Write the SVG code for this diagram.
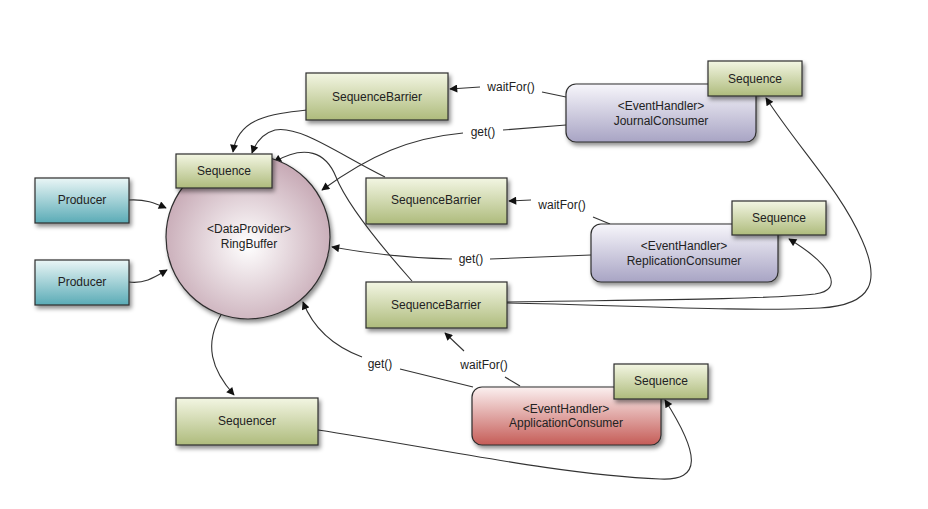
<svg xmlns="http://www.w3.org/2000/svg" width="928" height="509" viewBox="0 0 928 509">
<style>
text{font-family:"Liberation Sans",Arial,sans-serif;font-size:12px;fill:#222;text-anchor:middle;dominant-baseline:central}
.box{stroke:#2e2e2e;stroke-width:1.2}
.g{fill:url(#gGreen)}
.c{fill:url(#gCyan)}
.p{fill:url(#gPurple)}
.r{fill:url(#gRed)}
.sh{filter:url(#shadow)}
.ln{fill:none;stroke:#333;stroke-width:1.1}
.ar{marker-end:url(#arr)}
</style>
<defs>
<linearGradient id="gGreen" x1="0" y1="0" x2="0" y2="1"><stop offset="0" stop-color="#f3f6e3"/><stop offset="1" stop-color="#aebb7c"/></linearGradient>
<linearGradient id="gCyan" x1="0" y1="0" x2="0" y2="1"><stop offset="0" stop-color="#eaf6f6"/><stop offset="1" stop-color="#5aabb6"/></linearGradient>
<linearGradient id="gPurple" x1="0" y1="0" x2="0" y2="1"><stop offset="0" stop-color="#f7f6fb"/><stop offset="1" stop-color="#a8a4c4"/></linearGradient>
<linearGradient id="gRed" x1="0" y1="0" x2="0" y2="1"><stop offset="0" stop-color="#fbf0f0"/><stop offset="1" stop-color="#c55c57"/></linearGradient>
<radialGradient id="gCircle" cx="0.5" cy="0.55" r="0.55"><stop offset="0" stop-color="#ffffff"/><stop offset="1" stop-color="#c6a8b4"/></radialGradient>
<filter id="shadow" x="-20%" y="-20%" width="140%" height="150%"><feDropShadow dx="2" dy="3" stdDeviation="2" flood-color="#000" flood-opacity="0.45"/></filter>
<marker id="arr" viewBox="0 0 10 10" refX="9" refY="5" markerWidth="10" markerHeight="8" markerUnits="userSpaceOnUse" orient="auto"><path d="M0,0 L10,5 L0,10 z" fill="#111"/></marker>
</defs>

<g id="connectors">
<path class="ln ar" d="M129,200 C145,199 155,203 166,208"/>
<path class="ln ar" d="M129,282 C145,284 155,277 167,270"/>
<path class="ln ar" d="M307,110 C270,114 238,118 233,152"/>
<path class="ln ar" d="M385,177 C340,155 300,125 275,130 C264,133 256,142 252,153"/>
<path class="ln ar" d="M412,281 C372,236 346,202 336,177 C326,152 305,144 274,162"/>
<path class="ln" d="M566,125 L503,130"/>
<path class="ln ar" d="M463,133 C410,138 370,155 322,190"/>
<path class="ln" d="M566,97 L542,92"/>
<path class="ln ar" d="M480,87 L450,89"/>
<path class="ln" d="M610,224 L593,217"/>
<path class="ln ar" d="M531,200 L509,201"/>
<path class="ln" d="M591,255 L490,259"/>
<path class="ln ar" d="M452,259 C400,258 360,252 332,247"/>
<path class="ln" d="M520,386 L505,377"/>
<path class="ln ar" d="M464,351 L445,333"/>
<path class="ln" d="M473,387 L400,369"/>
<path class="ln ar" d="M362,357 C330,345 312,325 303,302"/>
<path class="ln ar" d="M222,313 C203,345 212,370 234,395"/>
<path class="ln ar" d="M318,430 C430,447 560,475 660,479 C702,481 700,455 665,400"/>
<path class="ln ar" d="M507,302 C620,300 760,300 815,294 C845,290 832,265 789,239"/>
<path class="ln ar" d="M507,303 C620,305 740,312 820,308 C874,305 880,280 862,240 C840,190 800,150 766,98"/>
<text x="483" y="132">get()</text>
<text x="511" y="87">waitFor()</text>
<text x="562" y="205">waitFor()</text>
<text x="471" y="259">get()</text>
<text x="484" y="365">waitFor()</text>
<text x="380" y="364">get()</text>
</g>

<g id="ringbuffer">
<circle class="box sh" cx="248" cy="237" r="82" fill="url(#gCircle)"/>
<text x="249" y="229">&lt;DataProvider&gt;</text>
<text x="249" y="244">RingBuffer</text>
</g>
<g id="ringbuffer-sequence">
<rect class="box g sh" x="176" y="154" width="96" height="34"/>
<text x="224" y="171">Sequence</text>
</g>
<g id="producer1">
<rect class="box c sh" x="35" y="178" width="94" height="45"/>
<text x="82" y="200">Producer</text>
</g>
<g id="producer2">
<rect class="box c sh" x="35" y="260" width="94" height="45"/>
<text x="82" y="282">Producer</text>
</g>
<g id="barrier1">
<rect class="box g sh" x="306" y="73" width="142" height="47"/>
<text x="377" y="97">SequenceBarrier</text>
</g>
<g id="barrier2">
<rect class="box g sh" x="366" y="178" width="141" height="46"/>
<text x="436" y="200">SequenceBarrier</text>
</g>
<g id="barrier3">
<rect class="box g sh" x="366" y="282" width="141" height="46"/>
<text x="436" y="305">SequenceBarrier</text>
</g>
<g id="sequencer">
<rect class="box g sh" x="176" y="398" width="142" height="47"/>
<text x="247" y="421">Sequencer</text>
</g>
<g id="journal">
<rect class="box p sh" x="566" y="84" width="190" height="58" rx="10"/>
<text x="661" y="106">&lt;EventHandler&gt;</text>
<text x="661" y="121">JournalConsumer</text>
<rect class="box g sh" x="708" y="61" width="94" height="35"/>
<text x="755" y="79">Sequence</text>
</g>
<g id="replication">
<rect class="box p sh" x="591" y="224" width="187" height="58" rx="10"/>
<text x="684" y="246">&lt;EventHandler&gt;</text>
<text x="684" y="261">ReplicationConsumer</text>
<rect class="box g sh" x="732" y="201" width="94" height="34"/>
<text x="779" y="218">Sequence</text>
</g>
<g id="application">
<rect class="box r sh" x="472" y="387" width="189" height="58" rx="10"/>
<text x="566" y="409">&lt;EventHandler&gt;</text>
<text x="566" y="423">ApplicationConsumer</text>
<rect class="box g sh" x="614" y="364" width="94" height="35"/>
<text x="661" y="381">Sequence</text>
</g>
</svg>
